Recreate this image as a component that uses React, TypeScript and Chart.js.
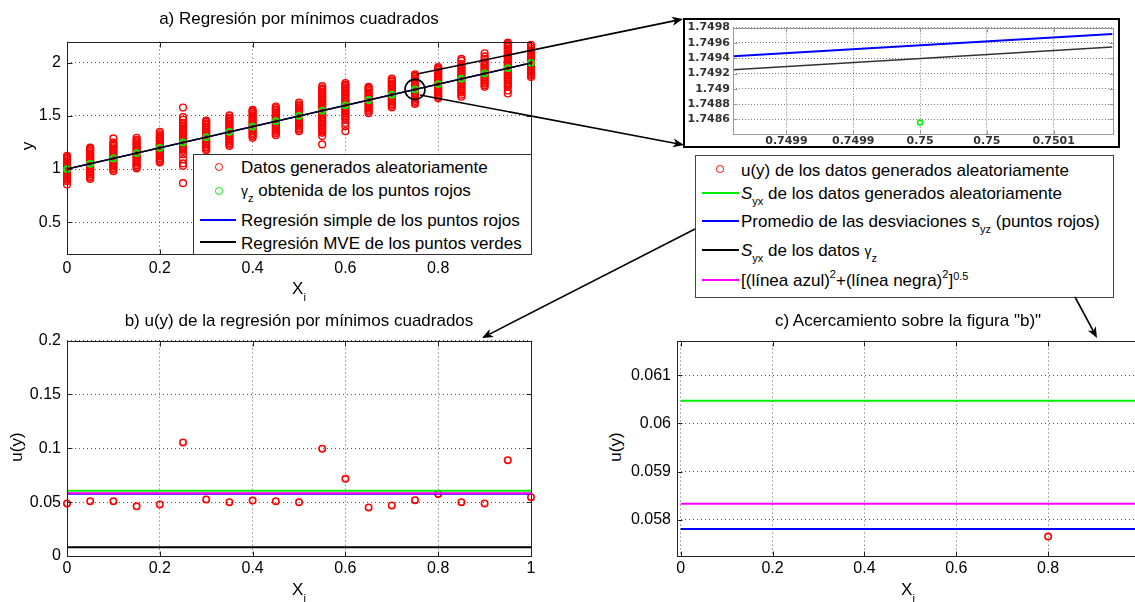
import React, { useEffect, useRef } from "react";
import { Chart, registerables } from "chart.js";

Chart.register(...registerables);

const FONT = '"Liberation Sans", Arial, Helvetica, sans-serif';

// ---------------- data ----------------
const xNodes = [0, 0.05, 0.1, 0.15, 0.2, 0.25, 0.3, 0.35, 0.4, 0.45, 0.5, 0.55, 0.6, 0.65, 0.7, 0.75, 0.8, 0.85, 0.9, 0.95, 1];

// randomly generated data (red circles), one list per x node
const randomDataY: number[][] = [
  [0.855, 0.886, 0.9, 0.915, 0.93, 0.945, 0.96, 0.975, 0.99, 1.005, 1.02, 1.035, 1.05, 1.065, 1.08, 1.095, 1.11, 1.124],
  [0.907, 0.92, 0.935, 0.95, 0.965, 0.98, 0.995, 1.01, 1.025, 1.04, 1.055, 1.07, 1.085, 1.1, 1.115, 1.13, 1.145, 1.16, 1.175, 1.19, 1.201],
  [0.979, 0.995, 1.01, 1.025, 1.04, 1.055, 1.07, 1.085, 1.1, 1.115, 1.13, 1.145, 1.16, 1.175, 1.19, 1.205, 1.22, 1.235, 1.248, 1.288],
  [1.006, 1.02, 1.035, 1.05, 1.065, 1.08, 1.095, 1.11, 1.125, 1.14, 1.155, 1.17, 1.185, 1.2, 1.215, 1.23, 1.245, 1.26, 1.275, 1.294],
  [1.062, 1.075, 1.09, 1.105, 1.12, 1.135, 1.15, 1.165, 1.18, 1.195, 1.21, 1.225, 1.24, 1.255, 1.27, 1.285, 1.3, 1.315, 1.33, 1.35],
  [0.867, 1.03, 1.053, 1.093, 1.14, 1.171, 1.185, 1.2, 1.215, 1.23, 1.245, 1.26, 1.275, 1.29, 1.305, 1.32, 1.335, 1.35, 1.365, 1.38, 1.395, 1.41, 1.425, 1.434, 1.464, 1.489, 1.579],
  [1.177, 1.19, 1.205, 1.22, 1.235, 1.25, 1.265, 1.28, 1.295, 1.31, 1.325, 1.34, 1.355, 1.37, 1.385, 1.4, 1.415, 1.43, 1.445, 1.455],
  [1.217, 1.23, 1.245, 1.26, 1.275, 1.29, 1.305, 1.32, 1.335, 1.35, 1.365, 1.38, 1.395, 1.41, 1.425, 1.44, 1.455, 1.47, 1.485, 1.505],
  [1.294, 1.31, 1.325, 1.34, 1.355, 1.37, 1.385, 1.4, 1.415, 1.43, 1.445, 1.46, 1.475, 1.49, 1.505, 1.52, 1.535, 1.545, 1.557],
  [1.319, 1.335, 1.35, 1.365, 1.38, 1.395, 1.41, 1.425, 1.44, 1.455, 1.47, 1.485, 1.5, 1.515, 1.53, 1.545, 1.56, 1.575, 1.589],
  [1.357, 1.37, 1.385, 1.4, 1.415, 1.43, 1.445, 1.46, 1.475, 1.49, 1.505, 1.52, 1.535, 1.55, 1.565, 1.58, 1.595, 1.61, 1.626],
  [1.232, 1.31, 1.341, 1.355, 1.37, 1.385, 1.4, 1.415, 1.43, 1.445, 1.46, 1.475, 1.49, 1.505, 1.52, 1.535, 1.55, 1.565, 1.58, 1.595, 1.61, 1.625, 1.64, 1.655, 1.67, 1.685, 1.7, 1.715, 1.73, 1.745, 1.76, 1.78],
  [1.357, 1.403, 1.434, 1.464, 1.48, 1.495, 1.51, 1.525, 1.54, 1.555, 1.57, 1.585, 1.6, 1.615, 1.63, 1.645, 1.66, 1.675, 1.69, 1.705, 1.72, 1.735, 1.75, 1.765, 1.78, 1.795, 1.81],
  [1.526, 1.54, 1.555, 1.57, 1.585, 1.6, 1.615, 1.63, 1.645, 1.66, 1.675, 1.69, 1.705, 1.72, 1.735, 1.75, 1.762, 1.774],
  [1.58, 1.595, 1.61, 1.625, 1.64, 1.655, 1.67, 1.685, 1.7, 1.715, 1.73, 1.745, 1.76, 1.775, 1.79, 1.805, 1.82, 1.835, 1.851],
  [1.613, 1.625, 1.64, 1.655, 1.67, 1.685, 1.7, 1.715, 1.73, 1.745, 1.76, 1.775, 1.79, 1.805, 1.82, 1.835, 1.85, 1.865, 1.878, 1.891],
  [1.666, 1.68, 1.695, 1.71, 1.725, 1.74, 1.755, 1.77, 1.785, 1.8, 1.815, 1.83, 1.845, 1.86, 1.875, 1.89, 1.905, 1.92, 1.935, 1.948, 1.96],
  [1.681, 1.7, 1.72, 1.735, 1.75, 1.765, 1.78, 1.795, 1.81, 1.825, 1.84, 1.855, 1.87, 1.885, 1.9, 1.915, 1.93, 1.945, 1.96, 1.975, 1.99, 2.02, 2.037],
  [1.774, 1.789, 1.805, 1.82, 1.835, 1.85, 1.865, 1.88, 1.895, 1.91, 1.925, 1.94, 1.955, 1.97, 1.985, 2.0, 2.015, 2.037, 2.06, 2.09],
  [1.712, 1.74, 1.774, 1.789, 1.805, 1.82, 1.835, 1.85, 1.865, 1.88, 1.895, 1.91, 1.925, 1.94, 1.955, 1.97, 1.985, 2.0, 2.015, 2.03, 2.045, 2.06, 2.075, 2.09, 2.105, 2.12, 2.135, 2.15, 2.165, 2.176, 2.19],
  [1.867, 1.882, 1.895, 1.91, 1.925, 1.94, 1.955, 1.97, 1.985, 2.0, 2.015, 2.03, 2.045, 2.06, 2.075, 2.09, 2.105, 2.115, 2.13, 2.15, 2.17],
];

// gamma_z obtained from the red points (green circles)
const gammaZ = [1.0, 1.05, 1.1, 1.15, 1.2, 1.25, 1.3, 1.35, 1.4, 1.45, 1.5, 1.55, 1.6, 1.65, 1.7, 1.75, 1.8, 1.85, 1.9, 1.95, 2.0];

// regression lines (endpoints)
const regressionX = [0, 1];
const simpleRegressionY = [0.9996, 1.9996];
const mveRegressionY = [0.9994, 1.9994];
const highlightX = [0.75];
const highlightY = [1.75];

// u(y) of the randomly generated data
const uY = [0.0488, 0.0509, 0.0509, 0.0461, 0.0479, 0.1055, 0.0525, 0.05, 0.0515, 0.0509, 0.05, 0.0996, 0.0717, 0.0451, 0.047, 0.0518, 0.05765, 0.05, 0.0488, 0.089, 0.0546];

// horizontal reference levels
const levelX = [0, 1];
const syxRandom = 0.06047;
const meanDeviationSyz = 0.05781;
const syxGamma = 0.0082;
const combinedLevel = 0.05833;

// zoom inset
const zoomX = [0.74986, 0.750144];
const zoomSimpleY = [1.749426, 1.749715];
const zoomMveY = [1.74925, 1.749545];
const zoomGammaX = [0.75];
const zoomGammaY = [1.74856];

// ticks
const aXTicks = [0, 0.2, 0.4, 0.6, 0.8];
const aXLabels = ["0", "0.2", "0.4", "0.6", "0.8"];
const aYTicks = [0.5, 1, 1.5, 2];
const aYLabels = ["0.5", "1", "1.5", "2"];
const bXTicks = [0, 0.2, 0.4, 0.6, 0.8, 1];
const bXLabels = ["0", "0.2", "0.4", "0.6", "0.8", "1"];
const bYTicks = [0, 0.05, 0.1, 0.15, 0.2];
const bYLabels = ["0", "0.05", "0.1", "0.15", "0.2"];
const cXTicks = [0, 0.2, 0.4, 0.6, 0.8, 1];
const cXLabels = ["0", "0.2", "0.4", "0.6", "0.8", "1"];
const cYTicks = [0.058, 0.059, 0.06, 0.061];
const cYLabels = ["0.058", "0.059", "0.06", "0.061"];
const zXTicks = [0.7499, 0.74995, 0.75, 0.75005, 0.7501];
const zXLabels = ["0.7499", "0.7499", "0.75", "0.75", "0.7501"];
const zYTicks = [1.7486, 1.7488, 1.749, 1.7492, 1.7494, 1.7496, 1.7498];
const zYLabels = ["1.7486", "1.7488", "1.749", "1.7492", "1.7494", "1.7496", "1.7498"];

// ---------------- helpers ----------------
const pts = (xs: number[], ys: number[]) => xs.map((x, i) => ({ x, y: ys[i] }));
const hline = (xs: number[], v: number) => xs.map((x) => ({ x, y: v }));

const framePlugin = {
  id: "matlabFrame",
  afterDraw(chart: any, _a: any, opts: any) {
    const { ctx, chartArea: ca, scales } = chart;
    ctx.save();
    ctx.strokeStyle = opts.color;
    ctx.lineWidth = opts.width;
    const L = Math.round(ca.left) + 0.5;
    const T = Math.round(ca.top) + 0.5;
    const R = Math.round(ca.right) + 0.5;
    const B = Math.round(ca.bottom) + 0.5;
    ctx.strokeRect(L, T, R - L, B - T);
    const len = opts.tick;
    ctx.beginPath();
    scales.x.ticks.forEach((t: any) => {
      const p = Math.round(scales.x.getPixelForValue(t.value)) + 0.5;
      if (p < L || p > R) return;
      ctx.moveTo(p, B); ctx.lineTo(p, B - len);
      ctx.moveTo(p, T); ctx.lineTo(p, T + len);
    });
    scales.y.ticks.forEach((t: any) => {
      const p = Math.round(scales.y.getPixelForValue(t.value)) + 0.5;
      ctx.moveTo(L, p); ctx.lineTo(L + len, p);
      ctx.moveTo(R, p); ctx.lineTo(R - len, p);
    });
    ctx.stroke();
    ctx.restore();
  },
};

type AxisSpec = { min: number; max: number; ticks: number[]; labels: string[]; pad: number };
type Spec = {
  plot: { left: number; top: number; right: number; bottom: number };
  padL: number; padT: number; padR: number; padB: number;
  x: AxisSpec; y: AxisSpec;
  font: any; tickColor: string;
  gridColor: string; gridDash: number[];
  frame: { color: string; width: number; tick: number };
  datasets: any[];
};

function axisOptions(a: AxisSpec, spec: Spec, horizontal: boolean) {
  return {
    type: "linear",
    min: a.min,
    max: a.max,
    afterBuildTicks: (s: any) => {
      s.ticks = a.ticks.map((v) => ({ value: v }));
    },
    afterFit: (s: any) => {
      if (horizontal) s.height = spec.padB;
      else s.width = spec.padL;
    },
    ticks: {
      autoSkip: false,
      maxRotation: 0,
      minRotation: 0,
      padding: a.pad,
      color: spec.tickColor,
      font: spec.font,
      callback: (_v: any, i: number) => a.labels[i],
    },
    grid: { display: true, drawTicks: false, color: spec.gridColor, lineWidth: 1 },
    border: { display: false, dash: spec.gridDash },
  };
}

function Plot({ spec }: { spec: Spec }) {
  const ref = useRef<HTMLCanvasElement>(null);
  const { plot, padL, padT, padR, padB } = spec;
  const width = plot.right - plot.left + padL + padR;
  const height = plot.bottom - plot.top + padT + padB;
  useEffect(() => {
    const chart = new Chart(ref.current as HTMLCanvasElement, {
      type: "scatter",
      data: { datasets: spec.datasets },
      options: {
        responsive: false,
        maintainAspectRatio: false,
        animation: false,
        devicePixelRatio: 1,
        events: [],
        layout: { padding: { left: 0, top: padT, right: padR, bottom: 0 } },
        plugins: {
          legend: { display: false },
          tooltip: { enabled: false },
          title: { display: false },
          matlabFrame: spec.frame,
        } as any,
        scales: {
          x: axisOptions(spec.x, spec, true) as any,
          y: axisOptions(spec.y, spec, false) as any,
        },
      },
      plugins: [framePlugin as any],
    });
    return () => chart.destroy();
  }, []);
  return (
    <canvas
      ref={ref}
      width={width}
      height={height}
      style={{ position: "absolute", left: plot.left - padL, top: plot.top - padT, width, height }}
    />
  );
}

const circleSet = (data: any[], color: string, r: number, bw: number, order: number) => ({
  data,
  showLine: false,
  pointStyle: "circle",
  pointRadius: r,
  pointBorderWidth: bw,
  pointBorderColor: color,
  pointBackgroundColor: "rgba(0,0,0,0)",
  borderColor: color,
  backgroundColor: "rgba(0,0,0,0)",
  clip: false,
  order,
});
const lineSet = (data: any[], color: string, w: number, order: number) => ({
  data,
  showLine: true,
  pointRadius: 0,
  borderColor: color,
  borderWidth: w,
  backgroundColor: color,
  fill: false,
  order,
});

const tickFont = { family: FONT, size: 16 };
const GRID = "rgba(0,0,0,0.65)";

const specA: Spec = {
  plot: { left: 67, top: 38, right: 531, bottom: 254 },
  padL: 40, padT: 12, padR: 12, padB: 30,
  x: { min: 0, max: 1, ticks: aXTicks, labels: aXLabels, pad: 5 },
  y: { min: 0.2, max: 2.2, ticks: aYTicks, labels: aYLabels, pad: 6 },
  font: tickFont, tickColor: "#000", gridColor: GRID, gridDash: [1, 3],
  frame: { color: "#222", width: 1, tick: 5 },
  datasets: [
    circleSet(xNodes.flatMap((x, i) => randomDataY[i].map((y) => ({ x, y }))), "#ff0000", 3.4, 1.4, 5),
    circleSet(pts(xNodes, gammaZ), "#00ee00", 3, 1.8, 4),
    lineSet(pts(regressionX, simpleRegressionY), "#0000ff", 1.5, 3),
    lineSet(pts(regressionX, mveRegressionY), "#000000", 1.5, 2),
    circleSet(pts(highlightX, highlightY), "#000000", 10, 1.6, 1),
  ],
};

const specB: Spec = {
  plot: { left: 67, top: 337, right: 531, bottom: 556 },
  padL: 52, padT: 12, padR: 12, padB: 30,
  x: { min: 0, max: 1, ticks: bXTicks, labels: bXLabels, pad: 3 },
  y: { min: 0, max: 0.2, ticks: bYTicks, labels: bYLabels, pad: 6 },
  font: tickFont, tickColor: "#000", gridColor: GRID, gridDash: [1, 3],
  frame: { color: "#222", width: 1, tick: 5 },
  datasets: [
    circleSet(pts(xNodes, uY), "#ff0000", 3.2, 1.6, 6),
    lineSet(hline(levelX, syxRandom), "#00ee00", 2, 5),
    lineSet(hline(levelX, meanDeviationSyz), "#0000ff", 2, 4),
    lineSet(hline(levelX, syxGamma), "#000000", 2, 3),
    lineSet(hline(levelX, combinedLevel), "#ff00ff", 2, 2),
  ],
};

const specC: Spec = {
  plot: { left: 677, top: 337, right: 1140, bottom: 556 },
  padL: 52, padT: 12, padR: 12, padB: 30,
  x: { min: -0.008, max: 1, ticks: cXTicks, labels: cXLabels, pad: 3 },
  y: { min: 0.057247, max: 0.061722, ticks: cYTicks, labels: cYLabels, pad: 6 },
  font: tickFont, tickColor: "#000", gridColor: GRID, gridDash: [1, 3],
  frame: { color: "#222", width: 1, tick: 5 },
  datasets: [
    circleSet(pts(xNodes, uY), "#ff0000", 3.2, 1.6, 6),
    lineSet(hline(levelX, syxRandom), "#00ee00", 2, 5),
    lineSet(hline(levelX, meanDeviationSyz), "#0000ff", 2, 4),
    lineSet(hline(levelX, syxGamma), "#000000", 2, 3),
    lineSet(hline(levelX, combinedLevel), "#ff00ff", 2, 2),
  ],
};

const specZ: Spec = {
  plot: { left: 733, top: 25, right: 1115, bottom: 134 },
  padL: 48, padT: 7, padR: 3, padB: 12,
  x: { min: zoomX[0], max: zoomX[1], ticks: zXTicks, labels: zXLabels, pad: 1 },
  y: { min: 1.74841, max: 1.7498, ticks: zYTicks, labels: zYLabels, pad: 3 },
  font: { family: '"DejaVu Sans", sans-serif', size: 11, weight: "bold" },
  tickColor: "#333", gridColor: "rgba(0,0,0,0.5)", gridDash: [1, 2],
  frame: { color: "#999", width: 1, tick: 4 },
  datasets: [
    lineSet(pts(zoomX, zoomSimpleY), "#0000ff", 2, 3),
    lineSet(pts(zoomX, zoomMveY), "#333333", 1.5, 2),
    circleSet(pts(zoomGammaX, zoomGammaY), "#00ee00", 2.5, 1.5, 1),
  ],
};

// ---------------- text / annotation helpers ----------------
function Txt({ x, y, size = 17, center = false, rotate = false, children, style }: any) {
  let t = center ? "translate(-50%,-50%)" : "translateY(-50%)";
  if (rotate) t += " rotate(-90deg)";
  return (
    <div
      style={{
        position: "absolute", left: x, top: y, fontSize: size, lineHeight: 1,
        whiteSpace: "nowrap", transform: t, ...style,
      }}
    >
      {children}
    </div>
  );
}
const Sub = ({ children, dy = 5, size = 11 }: any) => (
  <span style={{ fontSize: size, position: "relative", top: dy }}>{children}</span>
);
const Sup = ({ children, dy = -8, size = 11 }: any) => (
  <span style={{ fontSize: size, position: "relative", top: dy }}>{children}</span>
);
const Marker = ({ x, y, color, r, bw }: any) => (
  <div
    style={{
      position: "absolute", left: x - r - bw / 2, top: y - r - bw / 2, width: 2 * r + bw, height: 2 * r + bw,
      border: `${bw}px solid ${color}`, borderRadius: "50%", boxSizing: "border-box",
    }}
  />
);
const Sample = ({ x1, x2, y, color }: any) => (
  <div style={{ position: "absolute", left: x1, top: y - 1, width: x2 - x1, height: 2, background: color }} />
);

function Arrow({ a }: { a: number[] }) {
  const [x1, y1, x2, y2] = a;
  const dx = x2 - x1, dy = y2 - y1;
  const len = Math.hypot(dx, dy);
  const ux = dx / len, uy = dy / len;
  const hl = 11, hw = 4.5, notch = 8;
  const bx = x2 - ux * hl, by = y2 - uy * hl;
  const nx = x2 - ux * notch, ny = y2 - uy * notch;
  const px = -uy, py = ux;
  const poly = `${x2},${y2} ${bx + px * hw},${by + py * hw} ${nx},${ny} ${bx - px * hw},${by - py * hw}`;
  return (
    <g>
      <line x1={x1} y1={y1} x2={nx} y2={ny} stroke="#000" strokeWidth={1.6} />
      <polygon points={poly} fill="#000" />
    </g>
  );
}

const arrows = [
  [417, 74, 683, 19],
  [420, 95, 684, 145],
  [695, 229, 482, 338],
  [1075, 297, 1097, 338],
];

const XLabel = ({ x, y }: any) => (
  <Txt x={x} y={y} center>
    X<Sub dy={7} size={11}>i</Sub>
  </Txt>
);

export default function App() {
  return (
    <div
      style={{
        position: "absolute", left: 0, top: 0, width: 1135, height: 602, overflow: "hidden",
        background: "#fff", fontFamily: FONT, color: "#000",
      }}
    >
      <Plot spec={specA} />
      <Plot spec={specB} />
      <Plot spec={specC} />
      {/* inset frame */}
      <div
        style={{
          position: "absolute", left: 683, top: 18, width: 437, height: 130,
          border: "2px solid #000", boxSizing: "border-box",
        }}
      />
      <Plot spec={specZ} />

      {/* titles */}
      <Txt x={299} y={18} center>a) Regresión por mínimos cuadrados</Txt>
      <Txt x={299} y={320} center>b) u(y) de la regresión por mínimos cuadrados</Txt>
      <Txt x={908} y={320} center>c) Acercamiento sobre la figura "b)"</Txt>

      {/* axis labels */}
      <XLabel x={299} y={288} />
      <XLabel x={299} y={589} />
      <XLabel x={908} y={589} />
      <Txt x={27} y={146} center rotate>y</Txt>
      <Txt x={16} y={447} center rotate>u(y)</Txt>
      <Txt x={615} y={447} center rotate>u(y)</Txt>

      {/* legend a */}
      <div
        style={{
          position: "absolute", left: 193, top: 154, width: 339, height: 101,
          border: "1px solid #333", background: "#fff", boxSizing: "border-box",
        }}
      />
      <Marker x={219} y={167} color="#ff0000" r={3.3} bw={1} />
      <Txt x={241} y={167}>Datos generados aleatoriamente</Txt>
      <Marker x={219} y={191} color="#00ee00" r={2.9} bw={1.6} />
      <Txt x={241} y={190}>
        <span style={{ fontSize: 14 }}>γ</span>
        <Sub dy={6} size={11}>z</Sub> obtenida de los puntos rojos
      </Txt>
      <Sample x1={200} x2={236} y={220} color="#0000ff" />
      <Txt x={241} y={219.5}>Regresión simple de los puntos rojos</Txt>
      <Sample x1={200} x2={236} y={242} color="#000000" />
      <Txt x={241} y={242.5}>Regresión MVE de los puntos verdes</Txt>

      {/* legend b/c */}
      <div
        style={{
          position: "absolute", left: 695, top: 155, width: 419, height: 143,
          border: "1px solid #444", background: "#fff", boxSizing: "border-box",
        }}
      />
      <Marker x={720} y={169} color="#ff0000" r={3} bw={1.5} />
      <Txt x={741} y={169.5}>u(y) de los datos generados aleatoriamente</Txt>
      <Sample x1={702} x2={739} y={192.5} color="#00ee00" />
      <Txt x={741} y={192.5}>
        <i>S</i>
        <Sub dy={6} size={11}>yx</Sub> de los datos generados aleatoriamente
      </Txt>
      <Sample x1={702} x2={739} y={221} color="#0000ff" />
      <Txt x={741} y={221}>
        Promedio de las desviaciones s<Sub dy={6} size={11}>yz</Sub> (puntos rojos)
      </Txt>
      <Sample x1={702} x2={739} y={250} color="#000000" />
      <Txt x={741} y={250}>
        <i>S</i>
        <Sub dy={6} size={11}>yx</Sub> de los datos <span style={{ fontSize: 14 }}>γ</span>
        <Sub dy={6} size={11}>z</Sub>
      </Txt>
      <Sample x1={702} x2={739} y={279.5} color="#ff00ff" />
      <Txt x={741} y={280}>
        [(línea azul)<Sup dy={-8}>2</Sup>+(línea negra)<Sup dy={-8}>2</Sup>]<Sup dy={-6}>0.5</Sup>
      </Txt>

      {/* arrows */}
      <svg
        width={1135}
        height={602}
        style={{ position: "absolute", left: 0, top: 0, pointerEvents: "none" }}
      >
        {arrows.map((a, i) => (
          <Arrow key={i} a={a} />
        ))}
      </svg>
    </div>
  );
}
